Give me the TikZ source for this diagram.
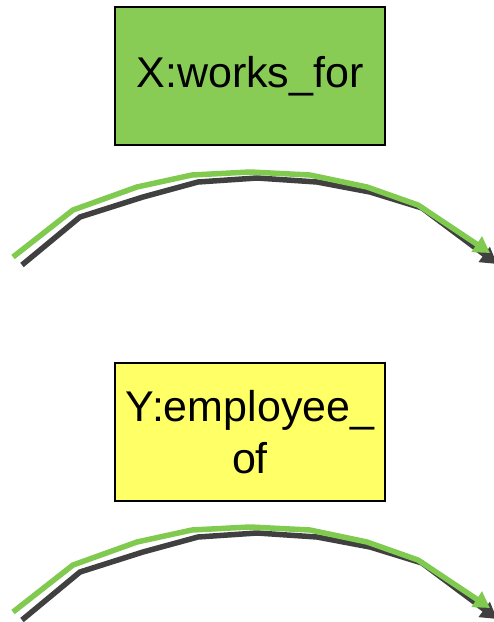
\documentclass[tikz,border=0pt]{standalone}
\usepackage{fontspec}
\setmainfont{Liberation Sans}
\usepackage{xcolor}
\usetikzlibrary{arrows.meta}
\definecolor{boxgreen}{RGB}{136,204,85}
\definecolor{linegreen}{RGB}{128,202,80}
\definecolor{boxyellow}{RGB}{255,255,102}
\definecolor{darkline}{RGB}{64,64,64}
\tikzstyle{relbox} = [rectangle, minimum width=270pt, minimum height=138pt, text centered, align=center, draw=black, line width=1.2pt, font=\fontsize{43}{52}\selectfont]
\tikzstyle{arcarrow} = [line width=5.5pt, -{Triangle[length=16pt,width=18pt]}]

\begin{document}
\begin{tikzpicture}[x=1pt, y=-1pt]
                \useasboundingbox (0,0) rectangle (494,622);

% ---------------------------------------------
% Relation boxes
% ---------------------------------------------
                \node (worksfor) [relbox, fill=boxgreen] at (250,76) {X:works\_for};
                \node (employeeof) [relbox, fill=boxyellow] at (250,432) {Y:employee\_\\of};

% ---------------------------------------------
% Arcs (below each box)
% ---------------------------------------------
                \foreach \dy in {0,355} {
                    \begin{scope}[yshift=-\dy pt]
                        % dark arc
                        \draw [arcarrow, darkline] (22,265) -- (80,217) -- (143,197) -- (198,182) -- (257,178) -- (317,182) -- (370,192) -- (422,208) -- (497,264);
                        % green arc
                        \draw [arcarrow, linegreen] (13,257) -- (73,210) -- (137,187) -- (192,175) -- (250,172) -- (310,175) -- (367,187) -- (418,205) -- (490,253);
                    \end{scope}
                }

            \end{tikzpicture}
\end{document}
